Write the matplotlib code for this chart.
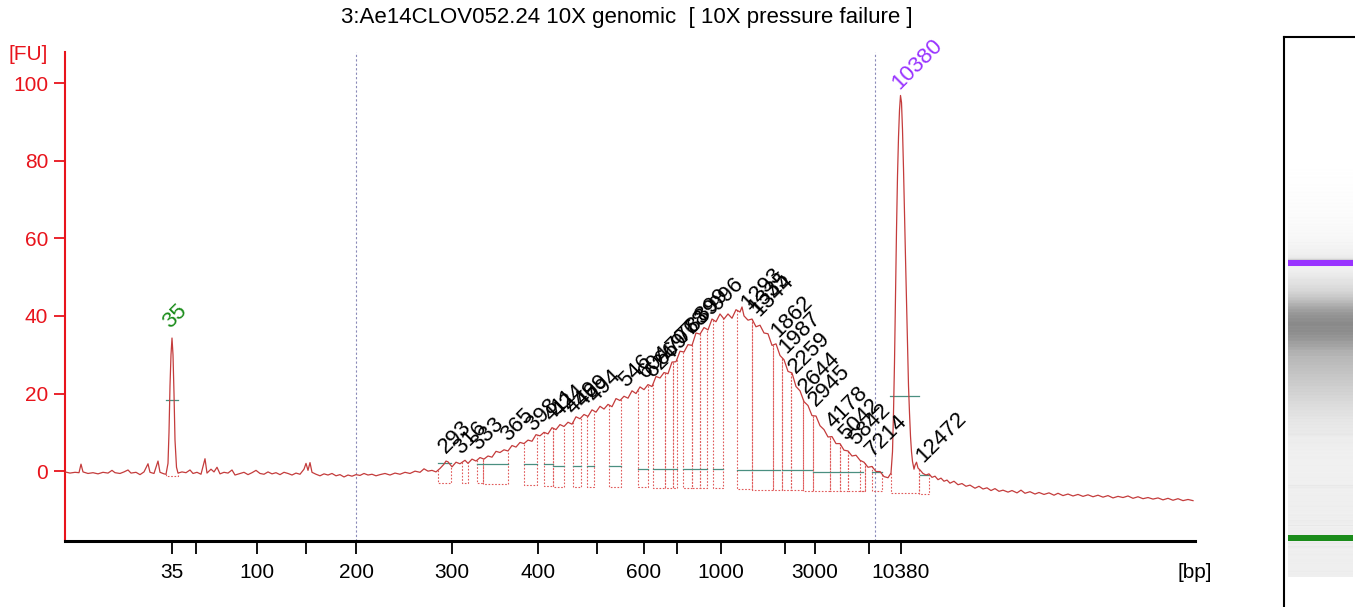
import numpy as np
import matplotlib
matplotlib.use("Agg")
import matplotlib.pyplot as plt

plt.rcParams['font.family'] = ['Liberation Sans', 'DejaVu Sans']

# --- data (x = migration position) ---
title = "3:Ae14CLOV052.24 10X genomic  [ 10X pressure failure ]"

ladder_bp = [35, 50, 100, 150, 200, 300, 400, 500, 600, 700, 1000, 2000, 3000, 7000, 10380]
ladder_pos = [172, 196, 257, 306, 356, 452, 538, 597, 644, 677, 721, 785, 815, 869, 901]
shown_bp = [35, 100, 200, 300, 400, 600, 1000, 3000, 10380]

trace_pos = [
    65, 70, 75, 79, 81, 83, 88, 93, 98, 103, 108, 112, 115, 120, 124, 128, 131, 136, 140, 144,
    148, 150, 154, 158, 160, 164, 166, 168, 169, 170, 171, 172, 173, 174, 175, 176.5, 178, 182, 186, 190,
    193, 197, 201, 205, 207, 211, 214, 217, 220, 224, 228, 232, 235, 240, 244, 248, 252, 256, 260, 264,
    268, 272, 276, 280, 284, 288, 292, 296, 300, 304, 306, 308, 310, 312, 316, 320, 324, 328, 332, 336,
    340, 344, 348, 352, 356, 360, 364, 368, 372, 376, 380, 385, 390, 395, 400, 405, 410, 415, 420, 424,
    428, 432, 436, 440, 444, 446, 448, 452, 456, 460, 465, 468, 472, 476, 480, 484, 488, 492, 496, 500,
    504, 508, 512, 516, 520, 524, 528, 532, 536, 540, 544, 548, 552, 556, 560, 564, 568, 572, 576, 580,
    584, 588, 592, 596, 600, 604, 608, 612, 616, 620, 624, 628, 632, 636, 640, 644, 648, 652, 656, 660,
    664, 668, 672, 676, 680, 684, 688, 692, 696, 700, 704, 708, 712, 716, 720, 724, 728, 732, 736, 740,
    742, 744, 748, 752, 756, 760, 764, 768, 772, 776, 780, 784, 788, 792, 796, 800, 804, 808, 812, 816,
    820, 824, 828, 832, 836, 840, 844, 848, 852, 856, 860, 864, 868, 872, 876, 880, 884, 888, 891, 892.5,
    893.5, 894.5, 895.5, 896.5, 897.5, 898.5, 899.5, 900.5, 901.5, 902.5, 903.5, 904.5, 905.5, 906.5, 907.5, 908.5, 909.5, 910.5, 911.5, 912.5,
    914, 915, 916.5, 918, 920, 923, 926, 929, 932, 935, 938, 941, 944, 947, 950, 954, 958, 962, 966, 970,
    975, 979, 983, 987, 991, 995, 999, 1003, 1008, 1012, 1017, 1021, 1025, 1030, 1035, 1039, 1044, 1049, 1054, 1058,
    1063, 1068, 1073, 1078, 1083, 1088, 1093, 1098, 1103, 1108, 1113, 1118, 1123, 1128, 1133, 1138, 1143, 1148, 1153, 1158,
    1163, 1168, 1173, 1178, 1183, 1188, 1193,
]
trace_fu = [
    -0.2, -0.5, -0.3, -0.4, 1.8, -0.2, -0.6, -0.4, -0.7, -0.3, -0.5, 0.2, -0.4, -0.6, -0.2, 0.3, -0.5, -0.3, -0.9, -0.2,
    1.9, -0.3, -0.6, 2.6, -0.3, -0.7, -0.8, 2.0, 10, 22, 30, 34.3, 30, 20, 8, 1, -0.5, -0.2, -0.4, 0.3,
    -0.6, -0.3, -0.8, 3.2, -0.5, 0.5, -0.2, 1.0, -0.7, -0.3, -0.5, 0.3, -1.0, -0.6, -0.3, -0.9, -0.4, 0.2, -0.6, -0.8,
    -0.2, -0.7, -0.4, -0.9, -0.3, -0.6, -1.0, -0.5, -0.8, 0.5, 2.0, 0.2, 2.2, -0.3, -0.8, -1.2, -0.7, -1.0, -0.6, -1.2,
    -0.9, -1.5, -1.0, -1.3, -0.9, -1.1, -0.6, -1.0, -0.8, -1.2, -0.9, -0.6, -1.0, -0.5, -0.8, -0.3, -0.6, 0.0, -0.3, 0.6,
    0.0, 0.2, -0.2, 0.7, 1.8, 2.6, 2.4, 1.1, 2.3, 1.9, 2.8, 2.0, 3.1, 2.6, 3.5, 3.1, 3.9, 3.6, 5.1, 4.8,
    5.5, 5.2, 6.6, 6.2, 7.4, 7.1, 8.0, 7.7, 9.4, 9.1, 10.0, 9.6, 11.2, 10.7, 12.0, 11.5, 12.6, 12.1, 14.0, 13.5,
    14.6, 14.1, 15.8, 15.2, 16.7, 16.0, 17.2, 16.6, 18.7, 18.2, 19.3, 18.8, 20.7, 20.0, 21.7, 21.0, 22.3, 21.8, 24.4, 24.0,
    25.4, 25.1, 28.1, 28.2, 30.9, 30.7, 32.6, 32.4, 35.6, 35.3, 37.0, 36.4, 39.2, 38.5, 40.5, 39.2, 40.5, 39.4, 41.6, 41.0,
    42.3, 40.0, 38.9, 39.2, 37.2, 37.6, 35.6, 35.4, 32.4, 32.8, 29.8, 28.7, 25.7, 25.3, 21.8, 20.7, 17.9, 16.9, 14.3, 14.2,
    11.7, 10.7, 8.8, 8.9, 7.1, 7.1, 5.4, 5.2, 3.9, 4.1, 2.8, 2.3, 1.0, 1.2, -0.1, -0.1, -1.4, -1.7, -0.5, 5,
    15, 28, 45, 62, 76, 86, 93, 96.8, 95, 88, 78, 66, 55, 44, 32, 22, 15, 9, 5, 2.5,
    0.5, 1.5, 2.3, 0.8, 0.3, -0.6, -1.0, -0.7, -1.6, -1.3, -2.2, -1.8, -2.6, -2.3, -3.1, -2.6, -3.5, -3.2, -3.9, -3.6,
    -4.4, -3.9, -4.6, -4.3, -5.0, -4.5, -5.2, -4.9, -5.4, -5.0, -5.6, -4.9, -5.7, -5.3, -5.9, -5.5, -6.0, -5.6, -6.2, -5.7,
    -6.3, -5.9, -6.4, -6.0, -6.5, -6.1, -6.6, -6.2, -6.7, -6.3, -6.9, -6.5, -6.8, -6.4, -7.0, -6.6, -7.1, -6.8, -7.2, -6.9,
    -7.4, -7.0, -7.5, -7.1, -7.6, -7.3, -7.6,
]

# detected peaks
peak_labels = ['293', '316', '333', '365', '398', '411', '424', '449', '469', '494', '546',
               '604', '624', '669', '707', '768', '839', '899', '996', '1293', '1335', '1344',
               '1862', '1987', '2259', '2644', '2945', '4178', '5042', '5842', '7214', '12472']
peak_pos = [445, 460, 477, 507, 532, 550, 558, 572, 582, 595, 625,
            645, 652, 662, 673, 683, 693, 702, 717, 747, 754, 758,
            777, 785, 795, 805, 815, 833, 845, 855, 872, 922]

marker_labels = ['35', '10380']
marker_pos = [172, 901]
marker_colors = ['#1a8c1a', '#9933ff']

# integration windows (start, end, floor in FU)
box_start = [166, 438, 462, 477, 483, 524, 544, 553, 573, 587, 609, 638, 653, 665, 673, 683, 692, 700,
             713, 737, 752, 773, 782, 791, 803, 813, 830, 840, 848, 860, 872, 891, 919]
box_end = [178, 451, 468, 483, 508, 537, 553, 564, 581, 594, 621, 648, 665, 673, 677, 692, 700, 707,
           723, 752, 773, 782, 791, 803, 813, 830, 840, 848, 865, 865, 882, 919, 929]
box_floor = [-1.3, -3.0, -3.0, -3.0, -3.4, -3.6, -3.8, -4.0, -4.0, -4.0, -4.0, -4.0, -4.4, -4.4, -4.4, -4.4, -4.4, -4.4,
             -4.4, -4.6, -4.9, -4.9, -4.9, -4.9, -5.0, -5.0, -5.0, -5.0, -5.0, -5.0, -5.0, -5.6, -5.8]

# half-height width lines (start, end, level FU)
half_start = [166, 438, 477, 524, 544, 553, 573, 587, 609, 638, 653, 683, 713, 737, 782, 813, 872, 890, 920]
half_end = [178, 451, 508, 537, 553, 564, 581, 594, 621, 648, 677, 707, 723, 780, 812, 863, 882, 919, 928]
half_level = [18.3, 2.1, 1.8, 1.8, 1.8, 1.4, 1.4, 1.4, 1.4, 0.6, 0.6, 0.6, 0.6, 0.3, 0.3, -0.3, -0.3, 19.3, -1.0]

region_pos = [356, 875]

trace_color = '#c43c3c'
box_color = '#e05a5a'
half_color = '#4a8f80'

fig = plt.figure(figsize=(13.55, 6.07), dpi=100)
ax = fig.add_axes([65 / 1355, 66 / 607, 1130 / 1355, 489 / 607])
ax.set_xlim(65, 1195)
ax.set_ylim(-18, 108)

for x in region_pos:
    ax.axvline(x, color='#8a8ab8', lw=0.8, ls=(0, (2, 2)), zorder=1)

# integration boxes
for s, e, f in zip(box_start, box_end, box_floor):
    ys = np.interp(s, trace_pos, trace_fu)
    ye = np.interp(e, trace_pos, trace_fu)
    ax.plot([s, s, e, e], [ys, f, f, ye], color=box_color, lw=0.8, ls=(0, (1.5, 1.5)), zorder=2)

for s, e, lv in zip(half_start, half_end, half_level):
    ax.plot([s, e], [lv, lv], color=half_color, lw=0.9, zorder=3)

ax.plot(trace_pos, trace_fu, color=trace_color, lw=0.9, zorder=4)

for lab, p in zip(peak_labels, peak_pos):
    y = np.interp(p, trace_pos, trace_fu)
    ax.annotate(lab, xy=(p, y), xytext=(1, 9), textcoords='offset pixels',
                rotation=45, rotation_mode='anchor', ha='left', va='baseline',
                fontsize=16, color='black', zorder=5)

for lab, p, c in zip(marker_labels, marker_pos, marker_colors):
    y = np.interp(p, trace_pos, trace_fu)
    ax.annotate(lab, xy=(p, y), xytext=(-2, 9), textcoords='offset pixels',
                rotation=45, rotation_mode='anchor', ha='left', va='baseline',
                fontsize=16, color=c, zorder=5)

# axes styling
for side in ['top', 'right']:
    ax.spines[side].set_visible(False)
ax.spines['left'].set_color('#e8141c')
ax.spines['left'].set_linewidth(1.5)
ax.spines['bottom'].set_color('black')
ax.spines['bottom'].set_linewidth(2.2)

ax.set_yticks([0, 20, 40, 60, 80, 100])
ax.tick_params(axis='y', colors='#e8141c', direction='out', length=8, width=1.3,
               labelsize=15, pad=4)
ax.set_xticks(ladder_pos)
ax.set_xticklabels([str(b) if b in shown_bp else '' for b in ladder_bp])
ax.tick_params(axis='x', colors='black', direction='out', length=9, width=1.3,
               labelsize=15, pad=7)

fig.text(28 / 1355, 1 - 55 / 607, '[FU]', color='#e8141c', fontsize=15, ha='center', va='center')
fig.text(1195 / 1355, 1 - 572 / 607, '[bp]', color='black', fontsize=15, ha='center', va='center')
fig.text(627 / 1355, 1 - 17 / 607, title, color='black', fontsize=16, ha='center', va='center')

# gel lane
gax = fig.add_axes([1284 / 1355, 0, 71 / 1355, 570 / 607])
gax.set_xlim(0, 71)
gax.set_ylim(-11, 1500)
gel_grid = np.arange(68, 1169)
gel_fu = np.interp(gel_grid, trace_pos, trace_fu)
gel_gray = np.clip(0.93 - 0.0095 * gel_fu, 0, 1)
gax.imshow(gel_gray[:, None], cmap='gray', vmin=0, vmax=1, origin='lower',
           extent=[4, 69, 68, 1168], aspect='auto', interpolation='nearest')
for p, c in zip(marker_pos, marker_colors):
    gax.fill_between([4, 69], p - 8, p + 8, color=c, lw=0)
gax.set_xticks([])
gax.set_yticks([])
gax.spines['right'].set_visible(False)
gax.spines['bottom'].set_visible(False)
gax.spines['left'].set_linewidth(1.5)
gax.spines['top'].set_linewidth(1.5)

fig.savefig('out.png', dpi=100)
